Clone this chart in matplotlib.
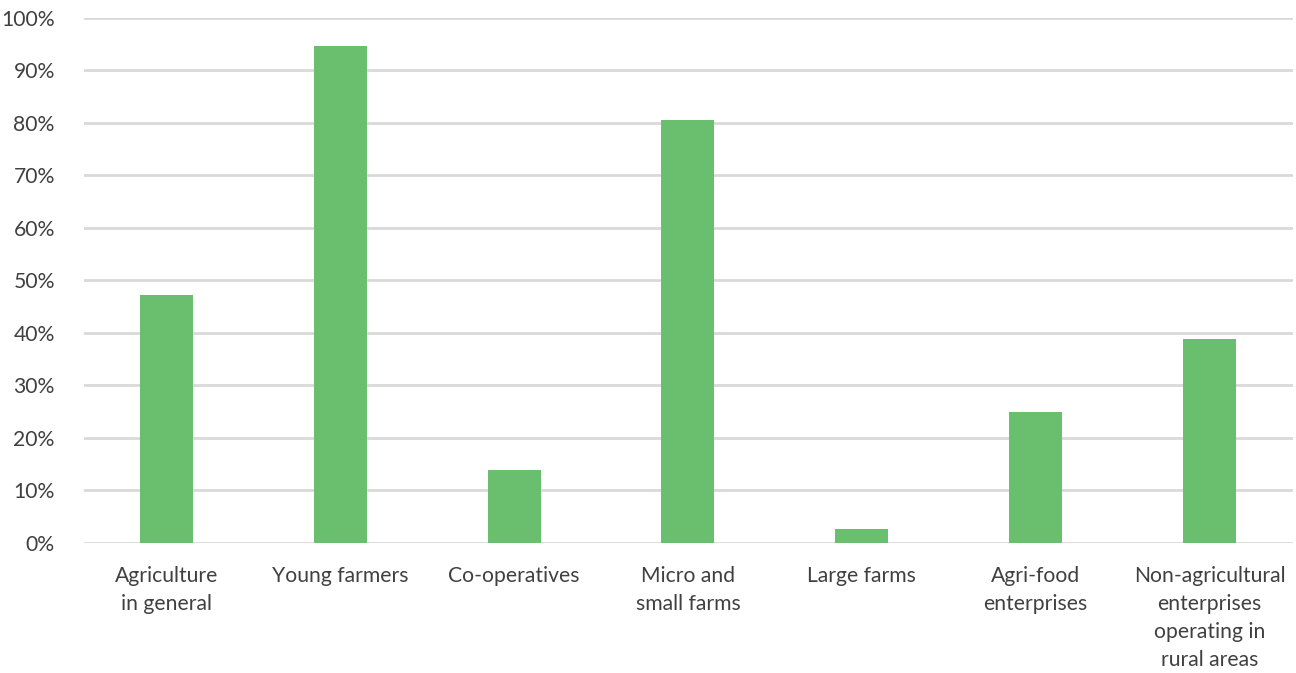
import matplotlib
matplotlib.use("Agg")
import matplotlib.pyplot as plt
from matplotlib.ticker import PercentFormatter

categories = [
    "Agriculture\nin general",
    "Young farmers",
    "Co-operatives",
    "Micro and\nsmall farms",
    "Large farms",
    "Agri-food\nenterprises",
    "Non-agricultural\nenterprises\noperating in\nrural areas",
]
shares = [47.3, 94.6, 13.9, 80.6, 2.6, 25.0, 38.8]
y_ticks = list(range(0, 101, 10))

plt.rcParams["font.family"] = ["Lato", "DejaVu Sans"]

W, H, DPI = 1296, 673, 100
fig = plt.figure(figsize=(W / DPI, H / DPI), dpi=DPI)
left, right, top, bottom = 84, 1293, 18, 542.7
ax = fig.add_axes([left / W, 1 - bottom / H, (right - left) / W, (bottom - top) / H])

x = list(range(len(categories)))
ax.bar(x, shares, width=0.305, color="#6abf6f", zorder=3)

# category centres sit at 166.5 px + 173.8 px * i
step = 173.83
ax.set_xlim((left - 166.5) / step, (right - 166.5) / step)
ax.set_ylim(0, 100)
ax.set_yticks(y_ticks)
ax.yaxis.set_major_formatter(PercentFormatter(decimals=0))
ax.grid(axis="y", color="#d9d9d9", linewidth=2, zorder=0)
ax.set_axisbelow(True)

ax.set_xticks(x)
ax.set_xticklabels(categories, linespacing=1.5)
ax.tick_params(axis="both", length=0, labelsize=15.2, colors="#404040")
ax.tick_params(axis="x", pad=16.5)
ax.tick_params(axis="y", pad=21)
for lab in ax.get_xticklabels():
    lab.set_verticalalignment("top")

for side in ax.spines.values():
    side.set_visible(False)

fig.savefig("out.png", dpi=DPI, facecolor="white")
